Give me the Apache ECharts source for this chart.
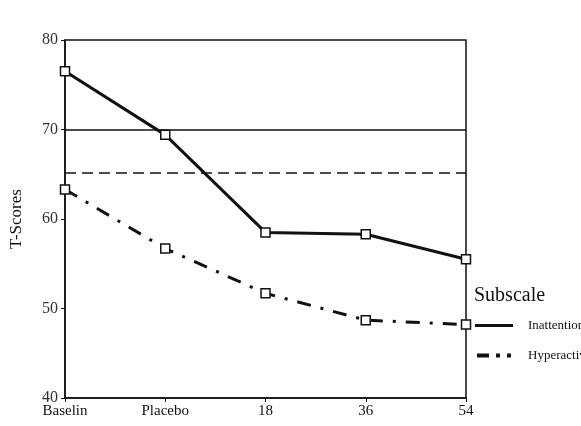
<!DOCTYPE html>
<html>
<head>
<meta charset="utf-8">
<script src="https://cdn.jsdelivr.net/npm/echarts@6/dist/echarts.min.js"></script>
<style>
  html, body { margin: 0; padding: 0; background: #fff; }
  #chart { width: 581px; height: 426px; }
</style>
</head>
<body>
<div id="chart"></div>
<script>
  // categories and values
  var categories = ['Baselin', 'Placebo', '18', '36', '54'];
  var inattention = [76.5, 69.4, 58.5, 58.3, 55.5];
  var hyperact = [63.3, 56.7, 51.7, 48.7, 48.2];
  var cutoffSolid = 70;
  var cutoffDashed = 65.2;
  var yTicks = { min: 40, max: 80, interval: 10 };

  var font = '"Liberation Serif", "DejaVu Serif", serif';
  var ink = '#111';

  var myChart = echarts.init(document.getElementById('chart'));
  myChart.setOption({
    animation: false,
    title: {
      text: 'Subscale',
      left: 474, top: 286,
      padding: 0,
      textStyle: { fontFamily: font, fontSize: 20, fontWeight: 'normal', color: ink }
    },
    legend: {
      orient: 'vertical',
      left: 475, top: 319,
      padding: 0,
      itemWidth: 38, itemHeight: 4, itemGap: 17,
      itemStyle: { color: ink, borderWidth: 0 },
      textStyle: { fontFamily: font, fontSize: 13, color: ink, padding: [0, 0, 0, 10] },
      data: [
        { name: 'Inattention', icon: 'path://M0,0h38v3h-38z' },
        { name: 'Hyperactivity', icon: 'path://M0,0h12v4h-12z M19,0h4v4h-4z M30,0h4v4h-4z' }
      ]
    },
    grid: {
      left: 65, right: 115, top: 40, bottom: 28,
      outerBoundsMode: 'none',
      containLabel: false,
      show: true, borderColor: ink, borderWidth: 1.5, backgroundColor: 'transparent'
    },
    xAxis: {
      type: 'category',
      data: categories,
      boundaryGap: false,
      axisLine: { lineStyle: { color: ink, width: 1.5 } },
      axisTick: { show: true, length: 4, lineStyle: { color: ink } },
      axisLabel: { fontFamily: font, fontSize: 15, color: ink, margin: 6 }
    },
    yAxis: {
      type: 'value',
      min: yTicks.min, max: yTicks.max, interval: yTicks.interval,
      name: 'T-Scores',
      nameLocation: 'middle',
      nameGap: 40,
      nameTextStyle: { fontFamily: font, fontSize: 17, color: ink },
      axisLine: { show: true, lineStyle: { color: ink, width: 1.5 } },
      axisTick: { show: true, length: 4, lineStyle: { color: ink } },
      splitLine: { show: false },
      axisLabel: { fontFamily: font, fontSize: 16, color: '#333', margin: 7 }
    },
    series: [
      {
        name: 'Inattention',
        type: 'line',
        data: inattention,
        color: ink,
        symbol: 'rect',
        symbolSize: 9,
        itemStyle: { color: '#fff', borderColor: ink, borderWidth: 1.5 },
        lineStyle: { color: ink, width: 3 },
        markLine: {
          silent: true,
          symbol: 'none',
          label: { show: false },
          data: [
            { yAxis: cutoffSolid, lineStyle: { type: 'solid', color: ink, width: 1.5 } },
            { yAxis: cutoffDashed, lineStyle: { type: [11, 6], color: ink, width: 1.5 } }
          ]
        },
        z: 3
      },
      {
        name: 'Hyperactivity',
        type: 'line',
        data: hyperact,
        color: ink,
        symbol: 'rect',
        symbolSize: 9,
        itemStyle: { color: '#fff', borderColor: ink, borderWidth: 1.5 },
        lineStyle: { color: ink, width: 3, type: [14, 10, 3, 10] },
        z: 3
      }
    ]
  });
</script>
</body>
</html>
